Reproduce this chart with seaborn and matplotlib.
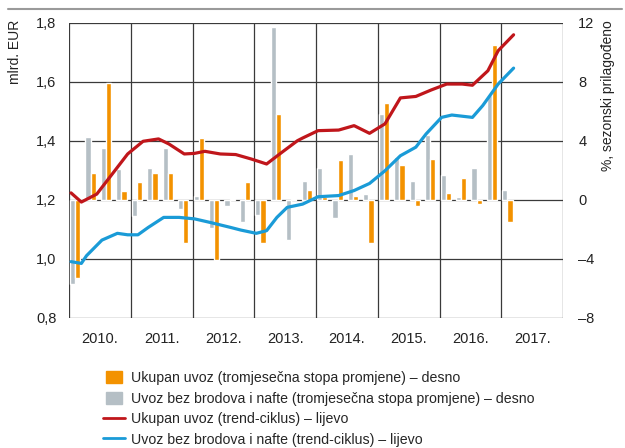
import numpy as np
import pandas as pd
import seaborn as sns
import matplotlib.pyplot as plt
from matplotlib.patches import Patch, Rectangle
from matplotlib.lines import Line2D
from matplotlib.legend_handler import HandlerPatch

# quarterly rates (right axis, %), 2010 Q1 .. 2017 Q1
uvoz_q = [-5.3, 1.8, 7.9, 0.6,
          1.2, 1.8, 1.8, -2.9,
          4.2, -4.1, 0.1, 1.2,
          -2.9, 5.8, 0.1, 0.7,
          0.2, 2.7, 0.3, -2.9,
          6.6, 2.4, -0.4, 2.8,
          0.5, 1.5, -0.3, 10.5,
          -1.5]
bez_q = [-5.7, 4.3, 3.5, 2.1,
         -1.1, 2.2, 3.5, -0.6,
         0.3, -1.9, -0.4, -1.5,
         -1.0, 11.7, -2.7, 1.3,
         2.2, -1.2, 3.1, 0.4,
         5.8, 2.9, 1.3, 4.4,
         1.7, 0.2, 2.2, 7.1,
         0.7]

# trend-cycle (left axis, bn EUR), month index from Jan 2010
red_m = [0, 2, 5, 8, 11, 14, 17, 19, 22, 24, 26, 29, 32, 35, 38, 41, 44, 45,
         48, 52, 55, 58, 61, 64, 67, 70, 73, 76, 78, 81, 83, 86]
red_v = [1.224, 1.193, 1.220, 1.288, 1.356, 1.399, 1.407, 1.390, 1.356, 1.358,
         1.365, 1.356, 1.354, 1.339, 1.322, 1.362, 1.401, 1.410, 1.435, 1.437,
         1.452, 1.426, 1.458, 1.546, 1.551, 1.573, 1.593, 1.593, 1.589, 1.638,
         1.706, 1.760]
blue_m = [0, 2, 3, 6, 9, 11, 13, 15, 18, 21, 24, 27, 31, 33, 36, 38, 40, 42,
          45, 48, 52, 55, 58, 61, 64, 67, 69, 72, 74, 78, 80, 83, 86]
blue_v = [0.991, 0.985, 1.011, 1.064, 1.087, 1.082, 1.082, 1.107, 1.141, 1.141,
          1.136, 1.124, 1.107, 1.098, 1.087, 1.096, 1.141, 1.175, 1.186, 1.211,
          1.215, 1.232, 1.256, 1.299, 1.350, 1.379, 1.424, 1.480, 1.488, 1.480,
          1.520, 1.593, 1.647]

years = ['2010.', '2011.', '2012.', '2013.', '2014.', '2015.', '2016.', '2017.']

ORANGE = '#F39200'
GREY = '#B5BFC5'
RED = '#C0161B'
BLUE = '#1A9BD7'

sns.set_style('white')
plt.rcParams['font.family'] = ['Liberation Sans', 'DejaVu Sans']
plt.rcParams['font.size'] = 10

fig = plt.figure(figsize=(6.25, 4.48), dpi=100)
ax = fig.add_axes([0.1104, 0.2902, 0.7904, 0.6585])
ax2 = ax.twinx()
ax.set_zorder(ax2.get_zorder() + 1)
ax.patch.set_visible(False)

# bars on right axis
q = np.arange(len(uvoz_q))
ax2.bar(3 * q + 0.2, bez_q, width=1.0, align='edge', color=GREY, zorder=3)
ax2.bar(3 * q + 1.2, uvoz_q, width=1.0, align='edge', color=ORANGE, zorder=3)
ax2.set_ylim(-8, 12)
ax2.set_yticks([-8, -4, 0, 4, 8, 12])
ax2.set_yticklabels(['–8', '–4', '0', '4', '8', '12'])

# lines on left axis
red = pd.DataFrame({'m': np.array(red_m) + 0.4, 'v': red_v})
blue = pd.DataFrame({'m': np.array(blue_m) + 0.4, 'v': blue_v})
sns.lineplot(data=red, x='m', y='v', ax=ax, color=RED, lw=2.3)
sns.lineplot(data=blue, x='m', y='v', ax=ax, color=BLUE, lw=2.3)
ax.set_ylim(0.8, 1.8)
ax.set_yticks([0.8, 1.0, 1.2, 1.4, 1.6, 1.8])
ax.set_yticklabels(['0,8', '1,0', '1,2', '1,4', '1,6', '1,8'])
ax.set_xlim(0, 96)
ax.set_xticks(np.arange(6, 96, 12))
ax.set_xticklabels(years)
ax.set_xlabel('')
ax.set_ylabel('')

# grid drawn on the back axis
for y in [-8, -4, 0, 4, 8, 12]:
    ax2.axhline(y, color='#3a3a3a', lw=0.9, zorder=1)
for x in range(0, 97, 12):
    ax2.axvline(x, color='#3a3a3a', lw=0.9, zorder=1)

for a in (ax, ax2):
    for s in a.spines.values():
        s.set_visible(False)
    a.tick_params(length=0, labelsize=10.5, colors='#222222')
ax.tick_params(axis='y', pad=9)
ax.tick_params(axis='x', pad=10)
ax2.tick_params(axis='y', pad=11)

fig.text(0.024, 0.955, 'mlrd. EUR', rotation=90, ha='center', va='top', fontsize=10, color='#222222')
fig.text(0.973, 0.955, '%, sezonski prilagođeno', rotation=90, ha='center', va='top', fontsize=10, color='#222222')
fig.add_artist(Line2D([0.013, 0.995], [0.981, 0.981], transform=fig.transFigure, color='#9a9a9a', lw=1.5))


def square_patch(legend, orig_handle, xdescent, ydescent, width, height, fontsize):
    w, h = 11.5, 8.5
    return Rectangle((width / 2 - w / 2 - xdescent, height / 2 - h / 2 - ydescent), w, h)


handles = [Patch(color=ORANGE), Patch(color=GREY),
           Line2D([], [], color=RED, lw=2), Line2D([], [], color=BLUE, lw=2)]
labels = ['Ukupan uvoz (tromjesečna stopa promjene) – desno',
          'Uvoz bez brodova i nafte (tromjesečna stopa promjene) – desno',
          'Ukupan uvoz (trend-ciklus) – lijevo',
          'Uvoz bez brodova i nafte (trend-ciklus) – lijevo']
fig.legend(handles, labels, loc='upper left', bbox_to_anchor=(0.165, 0.172), frameon=False,
           fontsize=10.2, handlelength=1.55, handleheight=1.0, handletextpad=0.42,
           labelspacing=0.45, borderpad=0, borderaxespad=0,
           handler_map={Patch: HandlerPatch(patch_func=square_patch)})

fig.savefig('out.png', dpi=100)
